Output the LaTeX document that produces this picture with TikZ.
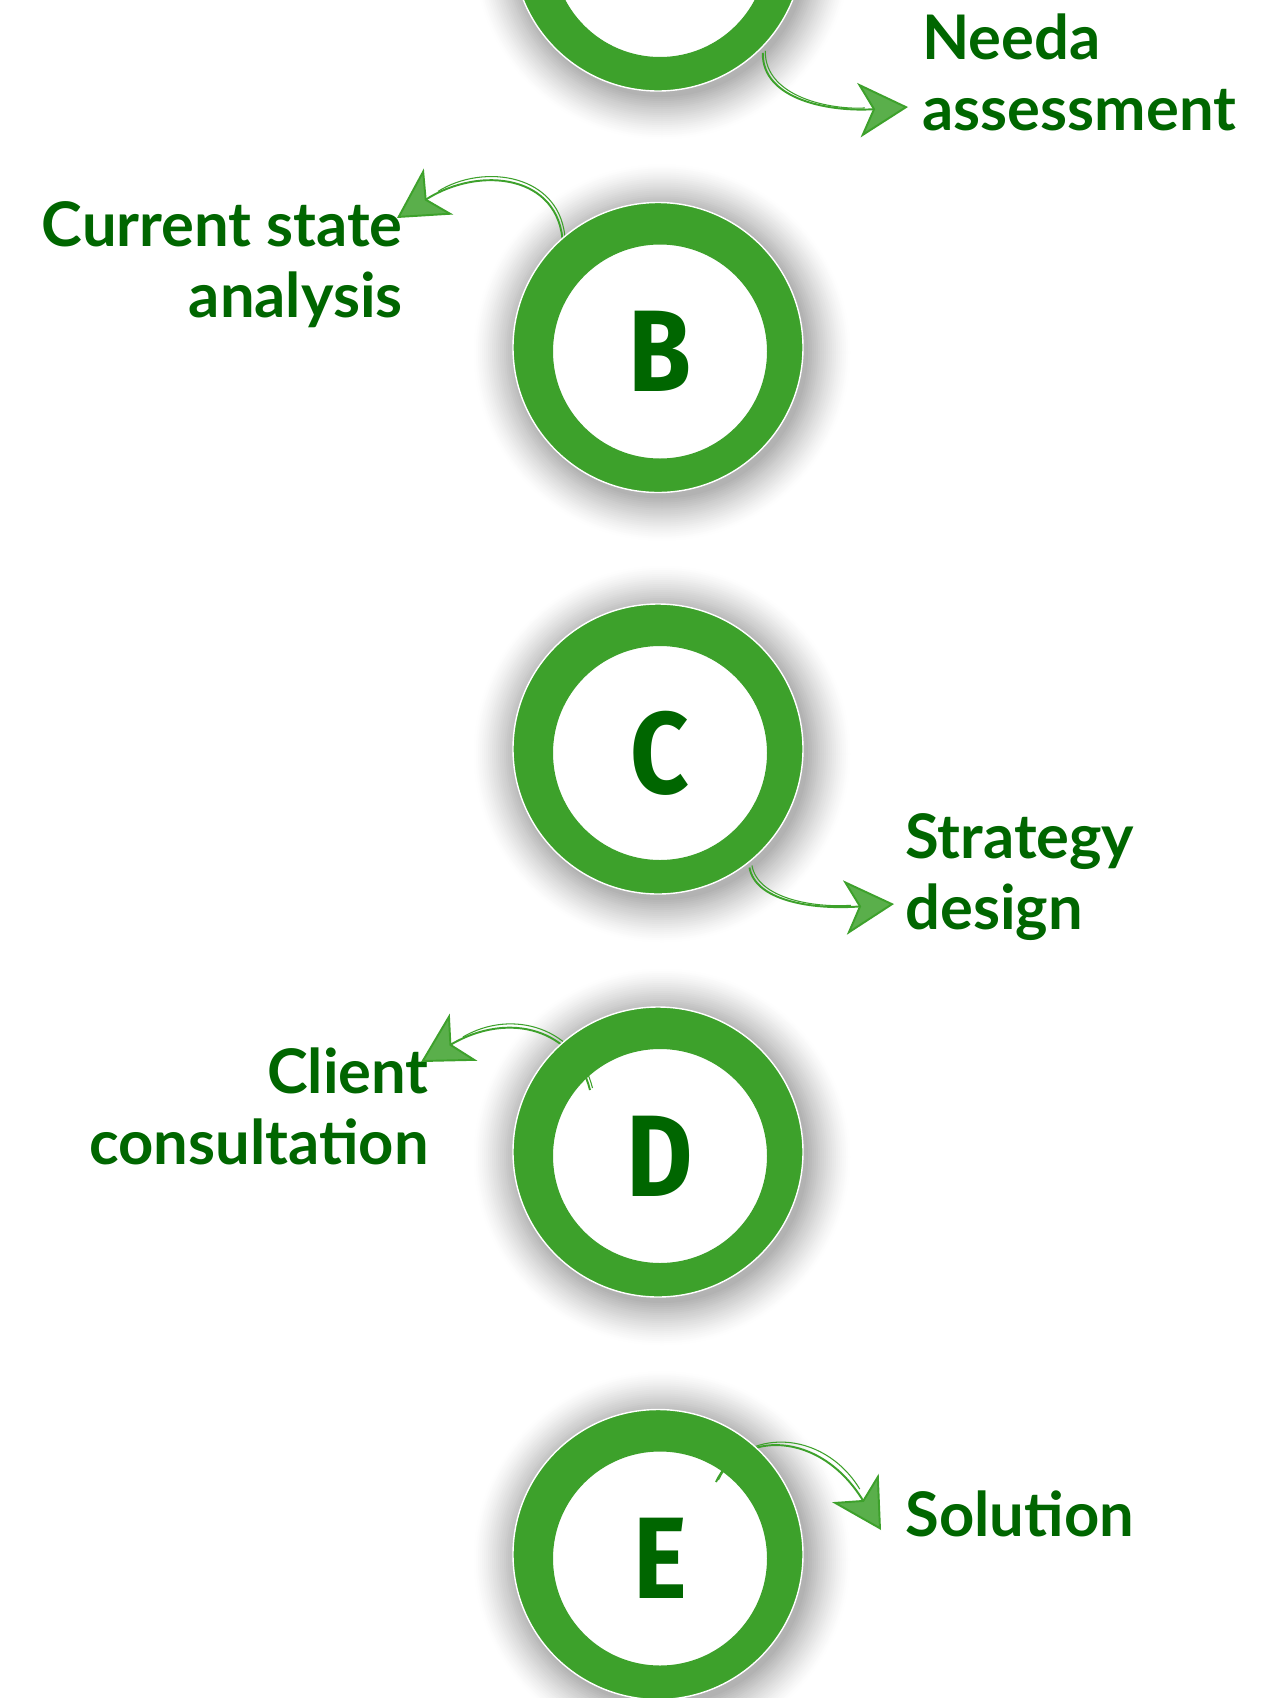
\documentclass[tikz,border=0pt]{standalone}
\usepackage{fontspec}
\usetikzlibrary{arrows.meta}
\newfontfamily\labelfont{Lato}
\newfontfamily\letterfont[FakeStretch=0.88]{Fira Sans}
\definecolor{ringgreen}{RGB}{61,161,43}
\definecolor{textgreen}{RGB}{0,102,0}
\tikzset{
  ringnode/.style={circle, inner sep=0, minimum size=5.8cm},
  letter/.style={text=textgreen, font=\letterfont\bfseries\fontsize{66}{66}\selectfont},
  caption/.style={text=textgreen, inner sep=0, font=\labelfont\bfseries\fontsize{35}{40}\selectfont},
  link/.style={draw=ringgreen, line width=1.1pt,
    -{Stealth[length=28pt, width=31pt, inset=8pt, fill=ringgreen!85]}},
  strand/.style={draw=ringgreen, line width=0.6pt, shorten >=26pt},
}

\begin{document}
\begin{tikzpicture}[x=0.02cm, y=-0.02cm]
   %
   \fill[white] (0,0) rectangle (1272,1698);
   \useasboundingbox (0,0) rectangle (1272,1698);
   %
   % shadows, discs and letters (the top letter lies off the page)
   \foreach \l/\y/\t in {A/-54/{},B/347.5/B,C/749/C,D/1152/D,E/1554.5/E} {
     \foreach \k in {0,...,22} {
       \pgfmathsetmacro\r{190-2*\k}
       \pgfmathsetmacro\c{30*(\k/22)^1.3}
       \fill[black!\c] (662,\y+5) circle (\r);
     }
     \fill[white] (660,\y+4) circle (110);
     \node[ringnode, letter] (\l) at (660,\y+4) {\t};
   }
   %
   % captions (anchored on the last line)
   \node[caption, anchor=base west, align=left] (needs) at (922,130) {Needa\\assessment};
   \node[caption, anchor=base east, align=right] (current) at (403,317) {Current state\\analysis};
   \node[caption, anchor=base west, align=left] (strategy) at (905,929) {Strategy\\design};
   \node[caption, anchor=base east, align=right] (client) at (429,1164) {Client\\consultation};
   \node[caption, anchor=base west] (solution) at (905,1536) {Solution};
   %
   \coordinate (tipA) at (908,107);
   \coordinate (tipB) at (397,218);
   \coordinate (tipC) at (894,904);
   \coordinate (tipD) at (421,1062);
   \coordinate (tipE) at (881,1530);
   \coordinate (startD) at (590,1090);
   \coordinate (startE) at (716,1482);
   %
   \foreach \from/\ca/\cb/\to in {A.-45/{762,100}/{830,112}/tipA,
                                  B.132/{560,175}/{480,165}/tipB,
                                  C.-52/{755,900}/{810,910}/tipC,
                                  startD/{575,1030}/{510,1010}/tipD,
                                  startE/{740,1430}/{820,1430}/tipE} {
     \draw[link] (\from) .. controls (\ca) and (\cb) .. (\to);
     \draw[strand, transform canvas={shift={(2.5,-2)}}]
          (\from) .. controls (\ca) and (\cb) .. (\to);
   }
   %
   % green rings on top
   \foreach \l in {A,B,C,D,E} {
     \fill[ringgreen, even odd rule] (\l) ++(-2,-4) circle (145) (\l) circle (107);
     \draw[white, line width=0.8pt] (\l) ++(-2,-4) circle (145);
   }
   %
\end{tikzpicture}
\end{document}
